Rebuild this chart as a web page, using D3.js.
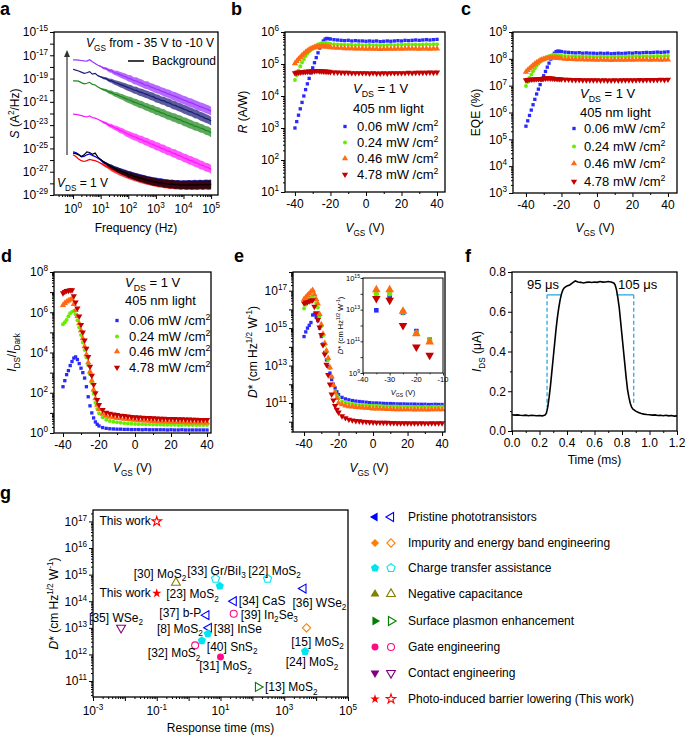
<!DOCTYPE html>
<html><head><meta charset="utf-8">
<script src="https://cdn.jsdelivr.net/npm/d3@7"></script>
<style>body{margin:0;background:#fff}svg{display:block}text{font-family:'Liberation Sans',Arial,sans-serif;fill:#000}</style>
</head><body>
<script>
// ================= DATA =================
// panel a : noise spectra, log10 S (A^2/Hz) at log10 f
const freqExp = [0,0.1,0.2,0.3,0.4,0.5,0.6,0.7,0.8,0.9,1,1.1,1.2,1.3,1.4,1.5,1.6,1.7,1.8,1.9,2,2.1,2.2,2.3,2.4,2.5,2.6,2.7,2.8,2.9,3,3.1,3.2,3.3,3.4,3.5,3.6,3.7,3.8,3.9,4,4.1,4.2,4.3,4.4,4.5,4.6,4.7,4.8,4.9,5];
const noisePurple = [-17.40,-17.40,-17.42,-17.45,-17.48,-17.50,-17.38,-17.55,-17.70,-17.85,-17.95,
 -18.10,-18.15,-18.30,-18.35,-18.50,-18.55,-18.66,-18.76,-18.84,-18.98,
 -19.02,-19.18,-19.21,-19.33,-19.41,-19.55,-19.58,-19.71,-19.79,-19.90,
 -19.96,-20.09,-20.16,-20.27,-20.33,-20.47,-20.53,-20.64,-20.73,-20.84,
 -20.91,-21.04,-21.09,-21.21,-21.31,-21.41,-21.48,-21.59,-21.67,-21.80];
const noiseNavy = [-18.20,-18.28,-18.35,-18.45,-18.55,-18.50,-18.40,-18.62,-18.55,-18.75,-18.85,
 -18.95,-19.00,-19.15,-19.20,-19.32,-19.40,-19.50,-19.58,-19.68,-19.78,
 -19.85,-19.98,-20.02,-20.15,-20.20,-20.32,-20.38,-20.50,-20.55,-20.70,
 -20.75,-20.88,-20.92,-21.05,-21.10,-21.25,-21.30,-21.42,-21.50,-21.62,
 -21.70,-21.82,-21.88,-22.02,-22.08,-22.22,-22.30,-22.42,-22.50,-22.65];
const noiseGreen = [-19.20,-19.20,-19.22,-19.35,-19.45,-19.40,-19.32,-19.50,-19.55,-19.72,-19.85,
 -19.95,-20.02,-20.15,-20.20,-20.35,-20.40,-20.52,-20.60,-20.72,-20.82,
 -20.88,-21.02,-21.08,-21.20,-21.25,-21.40,-21.45,-21.58,-21.62,-21.78,
 -21.82,-21.95,-22.00,-22.15,-22.20,-22.32,-22.38,-22.50,-22.55,-22.70,
 -22.75,-22.88,-22.95,-23.08,-23.12,-23.25,-23.30,-23.45,-23.50,-23.65];
const noiseMagenta = [-22.05,-22.08,-22.12,-22.18,-22.25,-22.30,-22.20,-22.35,-22.40,-22.50,-22.62,
 -22.75,-22.85,-23.00,-23.08,-23.22,-23.30,-23.45,-23.52,-23.68,-23.78,
 -23.88,-24.00,-24.05,-24.20,-24.25,-24.40,-24.45,-24.60,-24.65,-24.80,
 -24.85,-25.00,-25.05,-25.20,-25.25,-25.40,-25.45,-25.60,-25.65,-25.80,
 -25.85,-26.00,-26.05,-26.20,-26.25,-26.40,-26.45,-26.60,-26.65,-26.80];
const noiseBlue = [-25.30,-25.35,-25.50,-25.72,-25.68,-25.55,-25.48,-25.60,-25.70,-25.85,-26.00,
 -26.20,-26.30,-26.50,-26.55,-26.75,-26.80,-26.95,-27.00,-27.15,-27.20,
 -27.30,-27.35,-27.45,-27.50,-27.60,-27.62,-27.72,-27.75,-27.82,-27.85,
 -27.90,-27.92,-27.98,-28.00,-28.05,-28.05,-28.10,-28.08,-28.12,-28.10,
 -28.12,-28.10,-28.12,-28.08,-28.10,-28.06,-28.10,-28.05,-28.08,-28.05];
const noiseBlack = [-25.40,-25.45,-25.55,-25.70,-25.55,-25.30,-25.35,-25.50,-25.40,-25.75,-25.95,
 -26.15,-26.30,-26.45,-26.60,-26.70,-26.85,-26.92,-27.05,-27.10,-27.25,
 -27.28,-27.40,-27.45,-27.55,-27.58,-27.68,-27.72,-27.80,-27.85,-27.88,
 -27.95,-27.95,-28.02,-28.02,-28.08,-28.05,-28.12,-28.10,-28.15,-28.12,
 -28.15,-28.12,-28.15,-28.12,-28.15,-28.10,-28.14,-28.10,-28.12,-28.10];
const noiseRed = [-25.55,-25.70,-25.90,-26.05,-26.12,-26.05,-25.95,-26.00,-26.05,-26.15,-26.28,
 -26.40,-26.55,-26.65,-26.80,-26.90,-27.00,-27.10,-27.18,-27.28,-27.35,
 -27.42,-27.50,-27.55,-27.62,-27.68,-27.75,-27.80,-27.85,-27.90,-27.95,
 -28.00,-28.02,-28.06,-28.08,-28.12,-28.12,-28.15,-28.15,-28.18,-28.15,
 -28.18,-28.15,-28.20,-28.16,-28.18,-28.15,-28.20,-28.15,-28.18,-28.16];
const noiseSpread = [0,0,0,0,0,0,0,0,0,0,0.05,
 0.1,0.12,0.15,0.18,0.2,0.22,0.24,0.25,0.27,0.28,
 0.3,0.3,0.32,0.32,0.33,0.33,0.34,0.34,0.35,0.35,
 0.35,0.35,0.36,0.36,0.36,0.36,0.37,0.37,0.37,0.37,
 0.38,0.38,0.38,0.38,0.38,0.38,0.38,0.38,0.38,0.38];

// gate voltage grid for panels b-e
const vgs = [-40,-39,-38,-37,-36,-35,-34,-33,-32,-31,-30,-29,-28,-27,-26,-25,-24,-23,-22,-21,-20,
 -18,-16,-14,-12,-10,-8,-6,-4,-2,0,2,4,6,8,10,12,14,16,18,20,22,24,26,28,30,32,34,36,38,40];
const powerLabels = ["0.06","0.24","0.46","4.78"];

// panel b : log10 R (A/W)
const respBlue = [3.0,3.2,3.4,3.6,3.8,4.0,4.2,4.38,4.55,4.72,4.88,5.04,5.2,5.35,5.5,5.62,5.72,5.78,5.8,5.79,5.78,
 5.76,5.75,5.74,5.73,5.74,5.72,5.73,5.72,5.72,5.71,5.72,5.71,5.72,5.7,5.71,5.72,5.71,5.72,5.73,5.72,5.74,5.73,5.74,5.75,5.74,5.75,5.76,5.75,5.76,5.77];
const respGreen = [4.5,4.65,4.8,4.93,5.05,5.15,5.25,5.33,5.4,5.45,5.5,5.54,5.58,5.61,5.63,5.65,5.66,5.66,5.65,5.64,5.63,
 5.62,5.61,5.61,5.6,5.6,5.6,5.59,5.6,5.59,5.59,5.6,5.59,5.59,5.58,5.59,5.59,5.6,5.59,5.6,5.6,5.61,5.6,5.61,5.61,5.6,5.61,5.62,5.61,5.62,5.62];
const respOrange = [5.02,5.09,5.15,5.21,5.27,5.32,5.37,5.41,5.45,5.48,5.5,5.52,5.53,5.54,5.55,5.55,5.55,5.55,5.54,5.53,5.52,
 5.51,5.5,5.5,5.49,5.49,5.49,5.48,5.48,5.48,5.47,5.48,5.47,5.47,5.46,5.47,5.47,5.47,5.47,5.48,5.47,5.48,5.48,5.48,5.48,5.47,5.48,5.48,5.47,5.48,5.48];
const respRed = [4.72,4.73,4.74,4.74,4.75,4.75,4.76,4.76,4.77,4.77,4.78,4.78,4.79,4.79,4.78,4.78,4.77,4.77,4.76,4.76,4.75,
 4.74,4.74,4.73,4.73,4.73,4.72,4.72,4.72,4.72,4.72,4.71,4.72,4.71,4.71,4.72,4.71,4.72,4.72,4.72,4.72,4.72,4.73,4.72,4.73,4.73,4.73,4.73,4.74,4.73,4.74];

// panel c : log10 EQE (%)
const eqeBlue = [5.49,5.69,5.89,6.09,6.29,6.49,6.69,6.87,7.04,7.21,7.37,7.53,7.69,7.84,7.99,8.11,8.21,8.27,8.29,8.28,8.27,
 8.25,8.24,8.23,8.22,8.23,8.21,8.22,8.21,8.21,8.2,8.21,8.2,8.21,8.19,8.2,8.21,8.2,8.21,8.22,8.21,8.23,8.22,8.23,8.24,8.23,8.24,8.25,8.24,8.25,8.26];
const eqeGreen = [6.99,7.14,7.29,7.42,7.54,7.64,7.74,7.82,7.89,7.94,7.99,8.03,8.07,8.1,8.12,8.14,8.15,8.15,8.14,8.13,8.12,
 8.11,8.1,8.1,8.09,8.09,8.09,8.08,8.09,8.08,8.08,8.09,8.08,8.08,8.07,8.08,8.08,8.09,8.08,8.09,8.09,8.1,8.09,8.1,8.1,8.09,8.1,8.11,8.1,8.11,8.11];
const eqeOrange = [7.51,7.58,7.64,7.7,7.76,7.81,7.86,7.9,7.94,7.97,7.99,8.01,8.02,8.03,8.04,8.04,8.04,8.04,8.03,8.02,8.01,
 8.0,7.99,7.99,7.98,7.98,7.98,7.97,7.97,7.97,7.96,7.97,7.96,7.96,7.95,7.96,7.96,7.96,7.96,7.97,7.96,7.97,7.97,7.97,7.97,7.96,7.97,7.97,7.96,7.97,7.97];
const eqeRed = [7.21,7.22,7.23,7.23,7.24,7.24,7.25,7.25,7.26,7.26,7.27,7.27,7.28,7.28,7.27,7.27,7.26,7.26,7.25,7.25,7.24,
 7.23,7.23,7.22,7.22,7.22,7.21,7.21,7.21,7.21,7.21,7.2,7.21,7.2,7.2,7.21,7.2,7.21,7.21,7.21,7.21,7.21,7.22,7.21,7.22,7.22,7.22,7.22,7.23,7.22,7.23];

// panel d : log10 (I_DS / I_Dark)
const ratioBlue = [2.3,2.6,2.9,3.1,3.35,3.55,3.72,3.78,3.65,3.45,3.22,3.0,2.73,2.3,1.8,1.35,1.0,0.75,0.55,0.43,0.35,
 0.27,0.23,0.21,0.2,0.19,0.19,0.18,0.18,0.17,0.17,0.17,0.16,0.17,0.16,0.16,0.16,0.16,0.16,0.15,0.16,0.15,0.15,0.16,0.15,0.15,0.15,0.15,0.15,0.15,0.15];
const ratioGreen = [5.4,5.5,5.62,5.8,5.95,6.02,6.06,5.9,5.6,5.25,4.87,4.5,4.12,3.75,3.37,2.92,2.48,1.95,1.5,1.2,0.98,
 0.78,0.66,0.6,0.56,0.53,0.51,0.49,0.47,0.46,0.45,0.44,0.44,0.43,0.43,0.42,0.42,0.42,0.41,0.41,0.41,0.41,0.4,0.4,0.41,0.4,0.4,0.4,0.4,0.4,0.4];
const ratioOrange = [6.35,6.45,6.52,6.58,6.62,6.65,6.4,6.1,5.8,5.45,5.1,4.7,4.3,3.9,3.5,3.05,2.6,2.15,1.72,1.4,1.18,
 0.95,0.85,0.8,0.77,0.74,0.72,0.7,0.68,0.66,0.65,0.63,0.62,0.61,0.6,0.59,0.58,0.57,0.56,0.56,0.55,0.55,0.54,0.54,0.53,0.53,0.52,0.52,0.52,0.51,0.51];
const ratioRed = [6.95,7.02,7.07,7.08,7.1,7.1,6.8,6.5,6.2,5.8,5.38,5.0,4.6,4.2,3.78,3.3,2.85,2.4,1.98,1.65,1.4,
 1.15,1.02,0.97,0.93,0.9,0.87,0.85,0.83,0.81,0.79,0.78,0.77,0.76,0.75,0.74,0.73,0.72,0.72,0.71,0.7,0.7,0.69,0.69,0.68,0.68,0.67,0.67,0.66,0.66,0.66];

// panel e : log10 D* (cm Hz^1/2 W^-1)
const detBlue = [14.55,14.8,15.0,15.15,15.3,15.7,15.75,15.6,15.4,15.0,14.55,14.15,13.7,13.3,12.95,12.6,12.25,12.0,11.8,11.6,11.45,
 11.3,11.22,11.17,11.13,11.1,11.08,11.06,11.04,11.02,11.0,11.0,10.99,10.98,10.97,10.97,10.96,10.95,10.95,10.95,10.94,10.94,10.94,10.93,10.93,10.93,10.92,10.92,10.93,10.92,10.92];
const detGreen = [16.05,16.25,16.4,16.55,16.65,16.7,16.55,16.35,16.1,15.6,15.1,14.6,14.1,13.7,13.3,12.85,12.4,11.95,11.6,11.4,11.25,
 11.1,11.02,10.98,10.95,10.92,10.9,10.89,10.88,10.86,10.85,10.85,10.84,10.83,10.82,10.82,10.81,10.81,10.8,10.8,10.8,10.8,10.79,10.8,10.79,10.8,10.79,10.8,10.8,10.8,10.8];
const detOrange = [16.55,16.65,16.75,16.85,16.95,17.03,16.8,16.55,16.3,15.75,15.2,14.7,14.2,13.8,13.4,12.9,12.4,11.95,11.55,11.25,11.0,
 10.92,10.86,10.82,10.8,10.78,10.76,10.75,10.73,10.72,10.7,10.7,10.69,10.68,10.67,10.67,10.66,10.66,10.65,10.65,10.65,10.65,10.64,10.65,10.64,10.65,10.64,10.65,10.65,10.65,10.65];
const detRed = [16.33,16.37,16.4,16.44,16.47,16.5,16.15,15.8,15.44,15.05,14.65,14.1,13.6,13.05,12.5,12.0,11.46,11.15,10.85,10.65,10.5,
 10.3,10.2,10.12,10.08,10.05,10.03,10.01,10.0,9.98,9.97,9.96,9.96,9.95,9.95,9.94,9.94,9.93,9.93,9.93,9.93,9.92,9.93,9.92,9.93,9.92,9.92,9.93,9.92,9.93,9.93];
// inset of e
const insetV = [-35,-30,-25,-20,-15];
const insetBlue = [12.96,13.84,12.8,11.65,11.1];
const insetGreen = [14.0,14.0,12.85,11.55,11.06];
const insetOrange = [14.26,14.26,12.9,11.48,10.96];
const insetRed = [13.7,13.6,12.0,10.64,10.12];

// panel f : photocurrent transient
const timeMs = [0,0.02,0.04,0.06,0.08,0.1,0.12,0.14,0.16,0.18,0.2,0.22,0.24,0.25,0.26,0.27,0.28,0.29,0.3,0.31,0.32,0.33,0.34,0.35,0.36,0.37,0.38,0.4,0.42,0.44,0.46,0.48,0.5,0.52,0.54,0.56,0.58,0.6,0.62,0.64,0.66,0.68,0.7,0.72,0.74,0.75,0.76,0.77,0.78,0.79,0.8,0.81,0.82,0.83,0.84,0.85,0.86,0.87,0.88,0.9,0.92,0.94,0.96,0.98,1.0,1.02,1.04,1.06,1.08,1.1,1.12,1.14,1.16,1.18,1.2];
const currentUA = [0.082,0.08,0.081,0.079,0.078,0.08,0.077,0.079,0.078,0.077,0.078,0.076,0.08,0.09,0.12,0.17,0.23,0.3,0.37,0.44,0.51,0.57,0.62,0.66,0.69,0.71,0.72,0.73,0.735,0.745,0.755,0.75,0.748,0.745,0.748,0.75,0.747,0.75,0.748,0.752,0.749,0.75,0.752,0.75,0.745,0.735,0.71,0.67,0.62,0.55,0.48,0.41,0.34,0.27,0.21,0.17,0.14,0.12,0.11,0.1,0.093,0.088,0.085,0.083,0.082,0.08,0.081,0.078,0.079,0.077,0.079,0.076,0.078,0.075,0.076];
const riseTimes = [0.255, 0.36];
const fallTimes = [0.76, 0.885];
const markLevel = 0.685;
const markFoot = [0.12, 0.13];
const riseLabel = "95 μs", fallLabel = "105 μs";

// panel g : benchmark
const gCategories = ["Pristine phototransistors","Impurity and energy band engineering","Charge transfer assistance","Negative capacitance","Surface plasmon enhancement","Gate engineering","Contact engineering","Photo-induced barrier lowering (This work)"];
const gLabel = ["This work","This work","[30] MoS_2","[33] Gr/BiI_3","[22] MoS_2","[23] MoS_2","[36] WSe_2","[34] CaS","[39] In_2Se_3","[37] b-P","[35] WSe_2","[38] InSe","[15] MoS_2","[8] MoS_2","[40] SnS_2","[32] MoS_2","[24] MoS_2","[31] MoS_2","[13] MoS_2"];
const gTime = [0.1,0.1,0.4,7,300,9.5,4000,26,26,3.6,0.0076,4.3,5000,4,2.6,1.6,4500,10,150];
const gDstar = [1e17,2e14,5e14,7e14,7e14,3.7e14,3e14,1e14,3.4e13,3e13,1e13,1e13,1e13,6e12,3.3e12,2.2e12,1.3e12,8e11,6e10];
const gClass = [7,7,3,2,2,2,0,0,5,0,6,0,1,2,2,5,2,5,4];
const gFilled = [false,true,false,false,false,true,false,false,false,false,false,false,false,true,true,false,true,true,false];

// ================= STYLE / LAYOUT =================
const gColors = ["#0000ff","#ff7f00","#00e5f0","#808000","#008000","#ff0a84","#800080","#ff0000"];
const gShapes = ["left","diamond","pentagon","up","right","circle","down","star"];
const gSizes = {left:34, right:34, up:34, down:34, diamond:34, pentagon:44, circle:38, star:28};
const gLabelPos = [["end",-6,4],["end",-6,4],["middle",-16,-5],["middle",1,-4],["middle",7,-4],["end",-1,12],["middle",16,18],["start",5,4],["start",7,5],["end",-5,2],["middle",-5,-6],["start",5,5],["middle",11,18],["end",-5,-1],["start",5,10],["middle",-21,12],["middle",7,15],["middle",5,13],["start",7,4]];
const serColors = ["#2a2aff","#66ee00","#ff6a13","#c40000"];
const serShapes = ["square","circle","up","down"];

const svg = d3.select("body").append("svg").attr("width",685).attr("height",738);

// ---------- helpers ----------
function rich(el, parts, fs) {
  let shift = 0;
  parts.forEach(p => {
    const s = p[1] || "";
    const ts = el.append("tspan").text(p[0]);
    let target = 0, small = false;
    if (s.includes("d")) { target = fs*0.3; small = true; }
    if (s.includes("u")) { target = -fs*0.42; small = true; }
    if (target !== shift) ts.attr("dy", target - shift);
    shift = target;
    if (small) ts.attr("font-size", (fs*0.68).toFixed(1));
    if (s.includes("i")) ts.attr("font-style","italic");
  });
  return el;
}
function label(g, x, y, parts, fs, anchor, rot, weight) {
  const t = g.append("text").attr("font-size", fs).attr("text-anchor", anchor||"start");
  if (rot) t.attr("transform", `translate(${x},${y}) rotate(${rot})`); else t.attr("x", x).attr("y", y);
  if (weight) t.attr("font-weight", weight);
  return rich(t, parts, fs);
}
function subParts(str) {
  return str.split(/_(\d+)/).map((s,i) => [s, i%2 ? "d" : ""]).filter(p => p[0] !== "");
}
const logLab = e => [["10"],[String(e),"u"]];
function decadeVals(a,b){ const r=[]; for(let e=a;e<=b;e++) r.push(10**e); return r; }
function minorLog(a,b,dom){ const r=[]; for(let e=a;e<=b;e++) for(let m=2;m<=9;m++){ const v=m*10**e; if(v>dom[0]&&v<dom[1]) r.push(v);} return r; }
function axes(g, P, o) {
  const tl = o.tl || 4;
  const gx = g.append("g").attr("transform",`translate(0,${P.B})`);
  gx.call(d3.axisBottom(P.x).tickValues(o.xMaj).tickSize(tl).tickFormat(""));
  if (o.xMin) gx.append("g").call(d3.axisBottom(P.x).tickValues(o.xMin).tickSize(tl/2).tickFormat(""));
  const gy = g.append("g").attr("transform",`translate(${P.L},0)`);
  gy.call(d3.axisLeft(P.y).tickValues(o.yMaj).tickSize(tl).tickFormat(""));
  if (o.yMin) gy.append("g").call(d3.axisLeft(P.y).tickValues(o.yMin).tickSize(tl/2).tickFormat(""));
  g.selectAll(".domain").remove();
  g.selectAll(".tick line").attr("stroke-width", o.sw || 1);
  g.append("rect").attr("x",P.L).attr("y",P.T).attr("width",P.R-P.L).attr("height",P.B-P.T)
    .attr("fill","none").attr("stroke","#000").attr("stroke-width", o.fw || 1.3);
  const fs = o.fs || 12;
  (o.xLab||[]).forEach(([v,parts]) => label(g, P.x(v), P.B + (o.xOff||16), parts, fs, "middle"));
  (o.yLab||[]).forEach(([v,parts]) => label(g, P.L - (o.yOff||6), P.y(v) + fs*0.36, parts, fs, "end"));
}
const symPentagon = { draw(ctx, size) { const r = Math.sqrt(size/2.378);
  for (let k=0;k<5;k++){ const a=-Math.PI/2+k*2*Math.PI/5; const x=r*Math.cos(a), y=r*Math.sin(a); k?ctx.lineTo(x,y):ctx.moveTo(x,y);} ctx.closePath(); } };
const symDiamond = { draw(ctx, size) { const r = Math.sqrt(size/2); ctx.moveTo(0,-r); ctx.lineTo(r,0); ctx.lineTo(0,r); ctx.lineTo(-r,0); ctx.closePath(); } };
function shapeInfo(shape) {
  switch(shape){
    case "square": return [d3.symbolSquare,0];
    case "circle": return [d3.symbolCircle,0];
    case "up": return [d3.symbolTriangle,0];
    case "down": return [d3.symbolTriangle,180];
    case "left": return [d3.symbolTriangle,-90];
    case "right": return [d3.symbolTriangle,90];
    case "diamond": return [symDiamond,0];
    case "pentagon": return [symPentagon,0];
    case "star": return [d3.symbolStar,0];
  }
}
function marker(g, x, y, shape, size, color, filled, sw) {
  const [type, rot] = shapeInfo(shape);
  return g.append("path").attr("d", d3.symbol().type(type).size(size)())
    .attr("transform", `translate(${x},${y}) rotate(${rot})`)
    .attr("fill", filled ? color : "none").attr("stroke", filled ? "none" : color).attr("stroke-width", sw||1.2);
}
const serSizes = {square:11, circle:12, up:17, down:17};
function scatterSeries(g, P, xs, logs, k, sizeMul) {
  const gg = g.append("g");
  xs.forEach((v,i) => { if (logs[i] == null) return;
    marker(gg, P.x(v), P.y(10**logs[i]), serShapes[k], serSizes[serShapes[k]]*(sizeMul||1), serColors[k], true); });
}
function powerLegend(g, mx, tx, head, rows) {
  label(g, tx-4, head[0], [["V","i"],["DS","d"],[" = 1 V"]], 13, "start");
  label(g, tx-4, head[1], [["405 nm light"]], 13, "start");
  powerLabels.forEach((p,k) => {
    marker(g, mx, rows[k]-4.5, serShapes[k], serSizes[serShapes[k]], serColors[k], true);
    label(g, tx, rows[k], [[p+" mW /cm"],["2","u"]], 13, "start");
  });
}
const vgsTitle = [["V","i"],["GS","d"],[" (V)"]];
const linLab = vals => vals.map(v => [v, [[String(v)]]]);

// panel letters
[["a",0,15],["b",231,15],["c",461,15],["d",1,262],["e",234,262],["f",465,262],["g",0,499]].forEach(([t,x,y]) =>
  svg.append("text").attr("x",x).attr("y",y).attr("font-size",18).attr("font-weight","bold").text(t));

// ================= PANEL A =================
{
  const P = {L:54,R:218,T:32,B:195};
  P.x = d3.scaleLog().domain([10**-0.69, 10**5.25]).range([P.L,P.R]);
  P.y = d3.scaleLog().domain([1e-29,1e-15]).range([P.B,P.T]);
  const g = svg.append("g");
  const curves = [[noisePurple,"#9b30ff"],[noiseNavy,"#1c1c78"],[noiseGreen,"#1f871f"],[noiseMagenta,"#ff14ff"],
                  [noiseBlue,"#0000ff"],[noiseRed,"#ff0000"],[noiseBlack,"#000000"]];
  const area = d3.area().x((d,i)=>P.x(10**freqExp[i])).y0((d,i)=>P.y(10**(d-noiseSpread[i]))).y1((d,i)=>P.y(10**(d+noiseSpread[i])));
  const line = d3.line().x((d,i)=>P.x(10**freqExp[i])).y(d=>P.y(10**d));
  curves.forEach(([vals,c]) => {
    g.append("path").attr("d", area(vals)).attr("fill", c).attr("opacity", 0.72);
    g.append("path").attr("d", line(vals)).attr("fill","none").attr("stroke", c).attr("stroke-width", 1.2);
  });
  axes(g, P, {
    xMaj: decadeVals(0,5), xMin: minorLog(-1,5,P.x.domain()),
    yMaj: decadeVals(-29,-15),
    xLab: [0,1,2,3,4,5].map(e => [10**e, logLab(e)]), xOff: 18,
    yLab: [-15,-17,-19,-21,-23,-25,-27,-29].map(e => [10**e, logLab(e)])
  });
  label(g, 19, (P.T+P.B)/2, [["S","i"],[" (A"],["2","u"],["/Hz)"]], 12, "middle", -90);
  label(g, (P.L+P.R)/2, 232, [["Frequency (Hz)"]], 12, "middle");
  label(g, 86, 47, [["V","i"],["GS","d"],[" from - 35 V to -10 V"]], 12, "start");
  g.append("line").attr("x1",128).attr("x2",144).attr("y1",61).attr("y2",61).attr("stroke","#000").attr("stroke-width",1.5);
  label(g, 152, 65, [["Background"]], 12, "start");
  label(g, 57, 187, [["V","i"],["DS","d"],[" = 1 V"]], 12, "start");
  g.append("line").attr("x1",67).attr("x2",67).attr("y1",155).attr("y2",56).attr("stroke","#333").attr("stroke-width",1.2);
  g.append("path").attr("d","M67,50 L64,57 L70,57 Z").attr("fill","#333");
}

// ================= PANEL B =================
{
  const P = {L:285,R:445,T:32,B:192};
  P.x = d3.scaleLinear().domain([-45.6,44.5]).range([P.L,P.R]);
  P.y = d3.scaleLog().domain([1e1,1e6]).range([P.B,P.T]);
  const g = svg.append("g");
  [respBlue,respGreen,respOrange,respRed].forEach((s,k) => scatterSeries(g, P, vgs, s, k));
  axes(g, P, { xMaj:[-40,-20,0,20,40], xMin:[-30,-10,10,30], yMaj: decadeVals(1,6), yMin: minorLog(1,5,P.y.domain()),
    xLab: linLab([-40,-20,0,20,40]), yLab: [1,2,3,4,5,6].map(e => [10**e, logLab(e)]) });
  label(g, 247, (P.T+P.B)/2, [["R","i"],[" (A/W)"]], 12, "middle", -90);
  label(g, (P.L+P.R)/2, 232, vgsTitle, 12, "middle");
  powerLegend(g, 345, 357, [93, 113], [131, 147, 163, 179]);
}

// ================= PANEL C =================
{
  const P = {L:513,R:677,T:32,B:193};
  P.x = d3.scaleLinear().domain([-47.3,45.1]).range([P.L,P.R]);
  P.y = d3.scaleLog().domain([1e3,1e9]).range([P.B,P.T]);
  const g = svg.append("g");
  [eqeBlue,eqeGreen,eqeOrange,eqeRed].forEach((s,k) => scatterSeries(g, P, vgs, s, k));
  axes(g, P, { xMaj:[-40,-20,0,20,40], xMin:[-30,-10,10,30], yMaj: decadeVals(3,9), yMin: minorLog(3,8,P.y.domain()),
    xLab: linLab([-40,-20,0,20,40]), yLab: [3,4,5,6,7,8,9].map(e => [10**e, logLab(e)]) });
  label(g, 480, (P.T+P.B)/2, [["EQE (%)"]], 12, "middle", -90);
  label(g, (P.L+P.R)/2, 232, vgsTitle, 12, "middle");
  powerLegend(g, 574, 584, [98, 117], [133, 151, 168, 186]);
}

// ================= PANEL D =================
{
  const P = {L:54,R:211,T:272,B:433};
  P.x = d3.scaleLinear().domain([-45,42.2]).range([P.L,P.R]);
  P.y = d3.scaleLog().domain([1e0,1e8]).range([P.B,P.T]);
  const g = svg.append("g");
  [ratioBlue,ratioGreen,ratioOrange,ratioRed].forEach((s,k) => scatterSeries(g, P, vgs, s, k));
  axes(g, P, { xMaj:[-40,-20,0,20,40], xMin:[-30,-10,10,30], yMaj: decadeVals(0,8), yMin: minorLog(0,7,P.y.domain()),
    xLab: linLab([-40,-20,0,20,40]), yLab: [0,2,4,6,8].map(e => [10**e, logLab(e)]) });
  label(g, 16, (P.T+P.B)/2, [["I","i"],["DS","d"],["/"],["I","i"],["Dark","d"]], 12, "middle", -90);
  label(g, (P.L+P.R)/2, 472, vgsTitle, 12, "middle");
  powerLegend(g, 117, 129, [287, 305], [325, 341, 356, 372]);
}

// ================= PANEL E =================
{
  const P = {L:293,R:445,T:272,B:432};
  P.x = d3.scaleLinear().domain([-46.4,41.7]).range([P.L,P.R]);
  P.y = d3.scaleLog().domain([10**9.45,1e18]).range([P.B,P.T]);
  const g = svg.append("g");
  [detBlue,detGreen,detOrange,detRed].forEach((s,k) => scatterSeries(g, P, vgs, s, k));
  axes(g, P, { xMaj:[-40,-20,0,20,40], xMin:[-30,-10,10,30], yMaj: decadeVals(10,18), yMin: minorLog(9,17,P.y.domain()),
    xLab: linLab([-40,-20,0,20,40]), yLab: [11,13,15,17].map(e => [10**e, logLab(e)]) });
  label(g, 257, (P.T+P.B)/2, [["D","i"],["* (cm Hz"],["1/2","u"],[" W"],["-1","u"],[")"]], 12, "middle", -90);
  label(g, (P.L+P.R)/2, 472, vgsTitle, 12, "middle");
  // inset
  const I = {L:363,R:443,T:278,B:373};
  I.x = d3.scaleLinear().domain([-40,-10]).range([I.L,I.R]);
  I.y = d3.scaleLog().domain([1e9,1e15]).range([I.B,I.T]);
  const gi = svg.append("g");
  gi.append("rect").attr("x",I.L).attr("y",I.T).attr("width",I.R-I.L).attr("height",I.B-I.T).attr("fill","#fff");
  [insetBlue,insetGreen,insetOrange,insetRed].forEach((s,k) => scatterSeries(gi, I, insetV, s, k, 1.9));
  axes(gi, I, { tl:2.5, fs:7.5, fw:1, sw:0.8, xMaj:[-40,-30,-20,-10], xMin:[-35,-25,-15], yMaj: decadeVals(9,15),
    xLab: linLab([-40,-30,-20,-10]), xOff: 9, yOff: 3, yLab: [9,11,13,15].map(e => [10**e, logLab(e)]) });
  label(gi, 343, (I.T+I.B)/2, [["D","i"],["* (cm Hz"],["1/2","u"],[" W"],["-1","u"],[")"]], 7.5, "middle", -90);
  label(gi, (I.L+I.R)/2, 395, vgsTitle, 7.5, "middle");
}

// ================= PANEL F =================
{
  const P = {L:512,R:677,T:272,B:431};
  P.x = d3.scaleLinear().domain([0,1.2]).range([P.L,P.R]);
  P.y = d3.scaleLinear().domain([0,0.8]).range([P.B,P.T]);
  const g = svg.append("g");
  const fmt = d3.format(".1f");
  const blue = "#3aaee4";
  g.append("line").attr("x1",P.x(riseTimes[0])).attr("x2",P.x(riseTimes[1])).attr("y1",P.y(markLevel)).attr("y2",P.y(markLevel)).attr("stroke",blue).attr("stroke-width",1.4);
  g.append("line").attr("x1",P.x(fallTimes[0])).attr("x2",P.x(fallTimes[1])).attr("y1",P.y(markLevel)).attr("y2",P.y(markLevel)).attr("stroke",blue).attr("stroke-width",1.4);
  g.append("line").attr("x1",P.x(riseTimes[0])).attr("x2",P.x(riseTimes[0])).attr("y1",P.y(markLevel)).attr("y2",P.y(markFoot[0])).attr("stroke",blue).attr("stroke-width",1.4).attr("stroke-dasharray","4,2.5");
  g.append("line").attr("x1",P.x(fallTimes[1])).attr("x2",P.x(fallTimes[1])).attr("y1",P.y(markLevel)).attr("y2",P.y(markFoot[1])).attr("stroke",blue).attr("stroke-width",1.4).attr("stroke-dasharray","4,2.5");
  g.append("path").attr("d", d3.line().x((d,i)=>P.x(timeMs[i])).y(d=>P.y(d))(currentUA)).attr("fill","none").attr("stroke","#000").attr("stroke-width",1.6);
  axes(g, P, { xMaj:[0,0.2,0.4,0.6,0.8,1.0,1.2], xMin:[0.1,0.3,0.5,0.7,0.9,1.1], yMaj:[0,0.2,0.4,0.6,0.8], yMin:[0.1,0.3,0.5,0.7],
    xLab: [0,0.2,0.4,0.6,0.8,1.0,1.2].map(v => [v,[[fmt(v)]]]), yLab: [0,0.2,0.4,0.6,0.8].map(v => [v,[[fmt(v)]]]) });
  label(g, 481, (P.T+P.B)/2, [["I","i"],["DS","d"],[" (μA)"]], 12, "middle", -90);
  label(g, (P.L+P.R)/2, 464, [["Time (ms)"]], 12, "middle");
  label(g, 559, 289, [[riseLabel]], 13, "end");
  label(g, 618, 289, [[fallLabel]], 13, "start");
}

// ================= PANEL G =================
{
  const P = {L:93,R:348,T:510,B:697};
  P.x = d3.scaleLog().domain([1e-3,1e5]).range([P.L,P.R]);
  P.y = d3.scaleLog().domain([10**10.4,10**17.43]).range([P.B,P.T]);
  const g = svg.append("g");
  axes(g, P, { xMaj: decadeVals(-3,5), xMin: minorLog(-3,4,P.x.domain()), yMaj: decadeVals(11,17), yMin: minorLog(10,17,P.y.domain()),
    xLab: [-3,-1,1,3,5].map(e => [10**e, logLab(e)]), xOff: 18, yLab: [11,12,13,14,15,16,17].map(e => [10**e, logLab(e)]) });
  gLabel.forEach((t,i) => {
    const x = P.x(gTime[i]), y = P.y(gDstar[i]), c = gClass[i];
    marker(g, x, y, gShapes[c], gSizes[gShapes[c]], gColors[c], gFilled[i], 1.1);
    const [anc, dx, dy] = gLabelPos[i];
    label(g, x+dx, y+dy, subParts(t), 12, anc);
  });
  label(g, 58, (P.T+P.B)/2, [["D","i"],["* (cm Hz"],["1/2","u"],[" W"],["-1","u"],[")"]], 12, "middle", -90);
  label(g, (P.L+P.R)/2, 732, [["Response time (ms)"]], 12, "middle");
  const rows = [517,543,568,594,621,647,673,699];
  gCategories.forEach((name,k) => {
    marker(g, 375, rows[k], gShapes[k], gSizes[gShapes[k]], gColors[k], true);
    marker(g, 391, rows[k], gShapes[k], gSizes[gShapes[k]], gColors[k], false, 1.1);
    label(g, 408, rows[k]+4.3, [[name]], 12, "start");
  });
}
</script></body></html>
